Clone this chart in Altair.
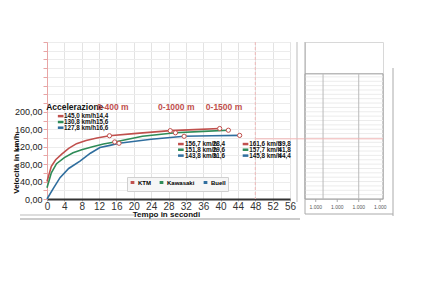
import altair as alt
import pandas as pd

# ---------------- data ----------------
series = ["KTM", "Kawasaki", "Buell"]
colors = ["#c0504d", "#2e8b57", "#2f6e9e"]

ktm_t = [0, 1, 2, 3.4, 5, 6.8, 9, 11.5, 14.4, 20, 28.4, 34, 39.8]
ktm_v = [40, 75, 90, 103, 116, 127, 134, 140, 145.0, 150, 156.7, 159, 161.6]
kaw_t = [0, 1, 2.2, 4, 6, 8, 10.5, 13, 15.6, 22, 29.6, 36, 41.8]
kaw_v = [26, 60, 81, 95, 106, 113, 120, 126, 130.8, 144, 151.8, 155, 157.7]
bue_t = [0, 1.5, 3, 5, 7.6, 10, 12.2, 14.5, 16.6, 24, 31.6, 38, 44.4]
bue_v = [0, 25, 49, 70, 87, 105, 118, 123, 127.8, 137, 143.8, 145, 145.8]

# labelled checkpoints (0-400 m, 0-1000 m, 0-1500 m)
mark_idx = [8, 10, 12]
speed_txt = {
    "KTM": ["145,0 km/h", "156,7 km/h", "161,6 km/h"],
    "Kawasaki": ["130,8 km/h", "151,8 km/h", "157,7 km/h"],
    "Buell": ["127,8 km/h", "143,8 km/h", "145,8 km/h"],
}
time_txt = {
    "KTM": ["14,4", "28,4", "39,8"],
    "Kawasaki": ["15,6", "29,6", "41,8"],
    "Buell": ["16,6", "31,6", "44,4"],
}
x_ticks = [0, 4, 8, 12, 16, 20, 24, 28, 32, 36, 40, 44, 48, 52, 56]
y_ticks = [0, 20, 40, 60, 80, 100, 120, 140, 160, 180, 200, 220, 240, 260, 280, 300, 320, 340, 360]
panel_ticks = [0.5, 1.5, 2.5, 3.5]
panel_label = ["1.000", "1.000", "1.000", "1.000"]

# ---------------- tables ----------------
rows = []
for s, ts, vs in [("KTM", ktm_t, ktm_v), ("Kawasaki", kaw_t, kaw_v), ("Buell", bue_t, bue_v)]:
    for i, (t, v) in enumerate(zip(ts, vs)):
        rows.append({"serie": s, "t": t, "v": v, "ord": i})
df = pd.DataFrame(rows)
pts = df[df["ord"].isin(mark_idx)]

# annotation boxes (placement in data units)
box_x0 = [2.5, 30.2, 45.1]      # dash start
box_tx = [3.9, 31.8, 46.6]      # speed text start
box_te = [14.1, 41.0, 56.2]     # time text end
box_v = [[190, 176.5, 163.5], [126, 113, 99.5], [126, 113, 99.5]]
ann = []
for b in range(3):
    for k, s in enumerate(series):
        ann.append({"serie": s, "t": box_x0[b], "t2": box_x0[b] + 1.3, "tx": box_tx[b],
                    "te": box_te[b], "v": box_v[b][k],
                    "spd": speed_txt[s][b], "tm": time_txt[s][b]})
ann = pd.DataFrame(ann)

col_scale = alt.Scale(domain=series, range=colors)
X = alt.Scale(domain=[0, 56], nice=False, zero=False)
Y = alt.Scale(domain=[0, 360], nice=False)
F = "Liberation Sans"

ylab = ("datum.value <= 200 && datum.value % 40 == 0 ? "
        "replace(format(datum.value, '.2f'), '.', ',') : ''")

xaxis = alt.Axis(
    values=x_ticks, title="Tempo in secondi", titleFont=F, titleFontSize=8,
    titleFontWeight="bold", titleX=119, titleY=11, titleBaseline="top", titleColor="#111",
    labelFont=F, labelFontSize=10, labelColor="#333", labelPadding=0,
    labelOverlap=False, labelFlush=False,
    gridColor="#e3e3e3", domainColor="#333", domainWidth=2,
    tickColor="#bbb", tickSize=2)
yaxis = alt.Axis(
    values=y_ticks, labelExpr=ylab, title="Velocità in km/h", titleFont=F,
    titleFontSize=8, titleFontWeight="bold", titleAngle=270, titleX=-27,
    titleY=121, titleColor="#111", labelFont=F, labelFontSize=9,
    labelColor="#222", labelPadding=1, labelOverlap=False, labelFlush=False,
    gridColor="#ececec", domainColor="#e8a5a5", tickColor="#e8a5a5", tickSize=4)


def xs(field):
    return alt.X(field, scale=X, axis=xaxis)


def ys(field):
    return alt.Y(field, scale=Y, axis=yaxis)


lines = alt.Chart(df).mark_line(strokeWidth=1.6).encode(
    x=xs("t:Q"), y=ys("v:Q"),
    color=alt.Color("serie:N", scale=col_scale, sort=series, legend=alt.Legend(
        orient="none", legendX=80, legendY=135, direction="horizontal", title=None,
        symbolType="stroke", symbolStrokeWidth=3, symbolSize=14, labelFont=F,
        labelFontSize=6, labelFontWeight="bold", columnPadding=2, labelOffset=2,
        gridAlign="none", padding=2, fillColor="#f6f6f6", strokeColor="#d0d0d0")),
    order="ord:Q",
)
markers = alt.Chart(pts).mark_point(filled=True, fill="white", stroke="#c0504d",
                                    strokeWidth=1, size=18, opacity=1).encode(
    x=xs("t:Q"), y=ys("v:Q"))

dashes = alt.Chart(ann).mark_rule(strokeWidth=2.5).encode(
    x=xs("t:Q"), x2="t2:Q", y=ys("v:Q"),
    color=alt.Color("serie:N", scale=col_scale, legend=None))
spd = alt.Chart(ann).mark_text(align="left", baseline="middle", font=F, fontSize=6.3,
                               fontWeight="bold", color="#111").encode(
    x=xs("tx:Q"), y=ys("v:Q"), text="spd:N")
tm = alt.Chart(ann).mark_text(align="right", baseline="middle", font=F, fontSize=6.3,
                              fontWeight="bold", color="#111").encode(
    x=xs("te:Q"), y=ys("v:Q"), text="tm:N")

titles = pd.DataFrame({
    "t": [-0.2, 11.5, 25.6, 36.6],
    "v": [211, 211, 211, 211],
    "txt": ["Accelerazione", "0-400 m", "0-1000 m", "0-1500 m"],
    "c": ["#111", "#c0504d", "#c0504d", "#c0504d"],
})
ttl = alt.Chart(titles).mark_text(align="left", baseline="middle", font=F, fontSize=8.5,
                                  fontWeight="bold").encode(
    x=xs("t:Q"), y=ys("v:Q"), text="txt:N",
    color=alt.Color("c:N", scale=None))

ref = pd.DataFrame({"t": [48], "v": [138]})
vdash = alt.Chart(ref).mark_rule(color="#f0b8b8", strokeDash=[3, 2], strokeWidth=1).encode(
    x=xs("t:Q"))
hpink = alt.Chart(ref).mark_rule(color="#f2b5b5", strokeWidth=1).encode(
    x=xs("t:Q"), x2=alt.value(243), y=ys("v:Q"))

# decorative sheet lines
deco = alt.Chart(pd.DataFrame({"a": [0]}))
sheet_r = deco.mark_rule(color="#bbb", strokeWidth=1).encode(
    x=alt.value(250), y=alt.value(0), y2=alt.value(160))
sheet_b = deco.mark_rule(color="#999", strokeWidth=1).encode(
    x=alt.value(-27), x2=alt.value(253), y=alt.value(177))
sheet_b2 = deco.mark_rule(color="#bbb", strokeWidth=1).encode(
    x=alt.value(-27), x2=alt.value(88), y=alt.value(173))

main = alt.layer(lines, vdash, hpink, markers, dashes, spd, tm, ttl,
                 sheet_r, sheet_b, sheet_b2).properties(width=243, height=157)

# ---------------- right panel ----------------
PX = alt.Scale(domain=[0, 3.63], nice=False, zero=False)
PY = alt.Scale(domain=[0, 360], nice=False)
pframe = alt.Chart(pd.DataFrame({"x0": [0], "x1": [3.63], "y0": [0], "y1": [287]}))
frame = pframe.mark_rect(fill="white", stroke="#999", strokeWidth=1).encode(
    x=alt.X("x0:Q", scale=PX, axis=None), x2="x1:Q",
    y=alt.Y("y0:Q", scale=PY, axis=None), y2="y1:Q")
hgrid = alt.Chart(pd.DataFrame({"v": list(range(10, 287, 10))})).mark_rule(
    color="#ececec", strokeWidth=1).encode(
    y=alt.Y("v:Q", scale=PY, axis=None), x=alt.value(0), x2=alt.value(78))
vgrid = alt.Chart(pd.DataFrame({"x": [0.84, 2.5], "y0": [0, 0], "y1": [287, 287]})).mark_rule(
    color="#bbb", strokeWidth=1).encode(
    x=alt.X("x:Q", scale=PX, axis=None), y=alt.Y("y0:Q", scale=PY, axis=None), y2="y1:Q")
ptick_df = pd.DataFrame({"x": panel_ticks, "lab": panel_label})
ptext = alt.Chart(ptick_df).mark_text(font=F, fontSize=5, color="#555", baseline="top",
                                      dy=3).encode(
    x=alt.X("x:Q", scale=PX, axis=None), y=alt.value(160), text="lab:N")
pticks = alt.Chart(ptick_df).mark_rule(color="#aaa").encode(
    x=alt.X("x:Q", scale=PX, axis=None), y=alt.value(157), y2=alt.value(160))
ppink = alt.Chart(pd.DataFrame({"v": [138]})).mark_rule(color="#f2b5b5", strokeWidth=1).encode(
    y=alt.Y("v:Q", scale=PY, axis=None), x=alt.value(-15), x2=alt.value(78))
pdeco = alt.Chart(pd.DataFrame({"a": [0]}))
pl = pdeco.mark_rule(color="#aaa").encode(x=alt.value(0), y=alt.value(0), y2=alt.value(172))
pr = pdeco.mark_rule(color="#aaa").encode(x=alt.value(88), y=alt.value(26), y2=alt.value(174))
pb = pdeco.mark_rule(color="#aaa").encode(x=alt.value(0), x2=alt.value(88), y=alt.value(172))

panel = alt.layer(frame, hgrid, vgrid, ppink, ptext, pticks, pl, pr, pb).properties(
    width=78, height=157)

chart = alt.hconcat(main, panel, spacing=15, bounds="flush").properties(
    padding={"left": 11, "top": 37, "right": 5, "bottom": 5},
    background="white",
).configure_view(stroke="#d8d8d8").configure_axis(labelFont=F)

chart.save("out.html", embed_options={"renderer": "svg", "actions": False})
